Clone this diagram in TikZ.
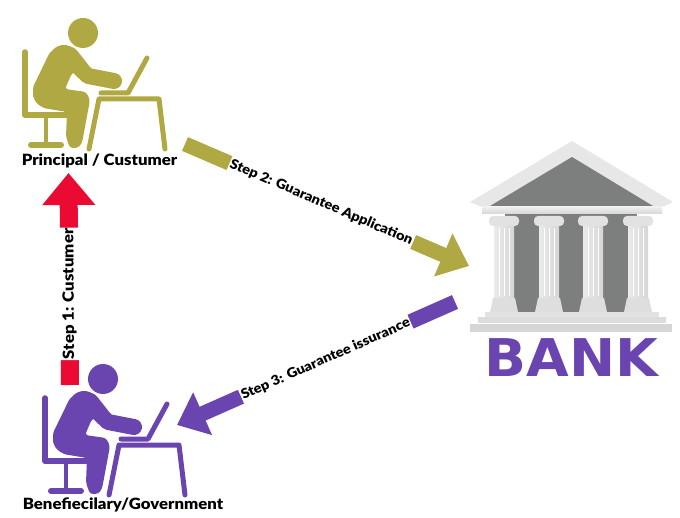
\documentclass[tikz,border=0pt]{standalone}
\usepackage{fontspec}
\setmainfont{Lato}[BoldFont={Lato Black}, FakeStretch=1.08]
\newfontfamily\bankfont{DejaVu Sans}
\usepackage{tikz}
\usetikzlibrary{arrows.meta,calc}
\definecolor{olive}{HTML}{B0A843}
\definecolor{violet}{HTML}{6A45B0}
\definecolor{signal}{HTML}{EA0A32}
\definecolor{stone}{HTML}{D6D6D6}
\definecolor{slate}{HTML}{7D7F7F}

% seated figure at a laptop, #1 is the shift and #2 the colour
\newcommand{\seatedfigure}[2]{
  \begin{scope}[shift={#1}, line cap=round, line join=round, draw=#2, fill=#2]
    \fill (83,33) circle[radius=15];
    \fill[rounded corners=3pt] (63,45) -- (50,52) -- (33,87) -- (33,97) -- (43,108)
      -- (67,112) -- (66,137) -- (70,148) -- (78,148) -- (82,143) -- (90,100)
      -- (86,92) -- (65,89) -- (72,73) -- (90,67) -- (75,48) -- cycle;
    \fill (64,60) circle[radius=15];
    \fill (48,93) circle[radius=15];
    \draw[line width=16pt] (68,57) -- (88,76) -- (114,81);
    % chair
    \draw[line width=5.5pt] (25,52) -- (25,115) -- (66,115);
    \draw[line width=4.5pt] (46,115) -- (46,145);
    \draw[line width=6pt] (31,145) -- (61,145);
    % laptop and table
    \draw[line width=5pt] (101,93) -- (128,93) -- (147,58);
    \draw[line width=5pt] (89,149) -- (99,99) -- (159,99) -- (165,149);
  \end{scope}
}

\begin{document}
\begin{tikzpicture}[x=1pt, y=-1pt,
  label/.style={font=\fontsize{15.5}{17}\selectfont\bfseries, inner sep=0pt, text=black},
  steplabel/.style={font=\fontsize{13.5}{15}\selectfont\bfseries, inner sep=1pt, fill=white, sloped, text=black},
  blockred/.style={draw=signal, line width=18pt, -{Triangle[length=32pt, width=51pt]}},
  blockolive/.style={draw=olive, line width=15pt, -{Triangle[length=28pt, width=45pt]}},
  blockviolet/.style={draw=violet, line width=15pt, -{Triangle[length=28pt, width=45pt]}}]
  \useasboundingbox (0,0) rectangle (680,518);

  \seatedfigure{(0,0)}{olive}
  \seatedfigure{(20,346)}{violet}
  \node[label] (principal) at (99.5,161) {Principal / Custumer};
  \node[label] (beneficiary) at (123,505) {Benefiecilary/Government};

  % temple: wall, roof, columns, steps
  \fill[slate] (505,214) rectangle (637,312);
  \fill[stone!60] (572,141) -- (673,202) -- (662,207) -- (482,207) -- (470,202) -- cycle;
  \fill[slate] (572,157) -- (653,206) -- (490,206) -- cycle;
  \shade[top color=stone!40, bottom color=stone] (482,207) rectangle (662,214);
  \foreach \cx in {504,549,593,638} {
    \shade[left color=stone!50, right color=stone] (\cx-10,225) rectangle (\cx+10,298);
    \foreach \fl in {-5,0,5}
      \draw[white, line width=.6pt] (\cx+\fl,228) -- (\cx+\fl,296);
    \fill[stone!70, rounded corners=4pt] (\cx-15,216) rectangle (\cx+15,226);
    \fill[stone!80] (\cx-11,298) -- (\cx+11,298) -- (\cx+14,312) -- (\cx-14,312) -- cycle;
  }
  \fill[stone!70] (485,312) rectangle (659,317);
  \fill[stone!85] (478,317.5) rectangle (666,323);
  \fill[stone] (470,324) rectangle (672,332);
  \node[font=\bankfont\bfseries\fontsize{52}{54}\selectfont, text=violet, inner sep=0pt, xscale=1.06] (bank) at (571.5,357.5) {BANK};

  % the three steps
  \coordinate (redtail) at (70,385);
  \coordinate (redtip) at (68.5,173);
  \coordinate (olivetail) at (185,144);
  \coordinate (olivetip) at (469,266);
  \coordinate (violettail) at (455,302);
  \coordinate (violettip) at (177,425);
  \draw[blockred] (redtail) -- (redtip)
    node[steplabel, allow upside down, font=\fontsize{15.5}{17}\selectfont\bfseries, pos=.43, minimum height=20pt] {Step 1: Custumer};
  \draw[blockolive] (olivetail) -- (olivetip)
    node[steplabel, pos=.48, minimum height=18pt] {Step 2: Guarantee Application};
  \draw[blockviolet] (violettail) -- (violettip)
    node[steplabel, pos=.465, minimum height=18pt] {Step 3: Guarantee issurance};
\end{tikzpicture}
\end{document}
